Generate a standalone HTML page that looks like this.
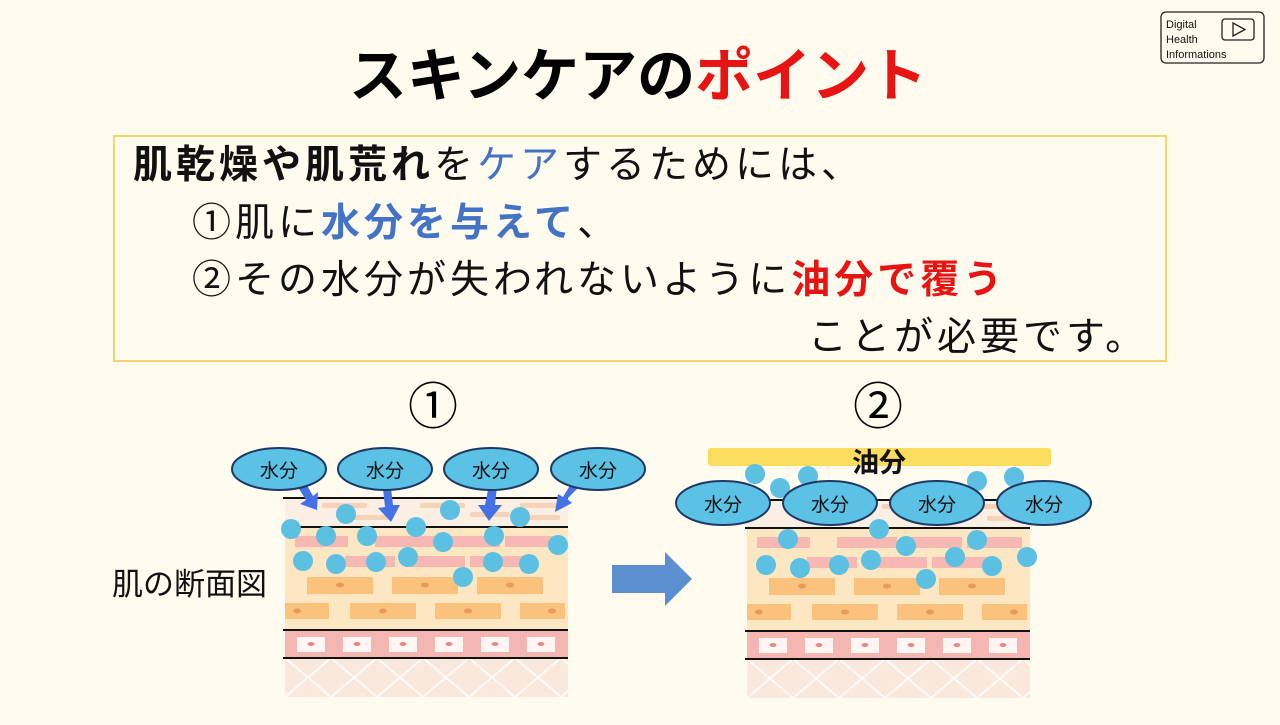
<!DOCTYPE html>
<html><head><meta charset="utf-8"><style>
body{margin:0;width:1280px;height:720px;overflow:hidden;background:#fffbee;font-family:"Liberation Sans","Noto Sans CJK JP",sans-serif;}
</style></head><body>
<svg width="1280" height="720" viewBox="0 0 1280 720" xmlns="http://www.w3.org/2000/svg" font-family="Liberation Sans, Noto Sans CJK JP, sans-serif">
<rect width="1280" height="720" fill="#fffbee"/>
<rect x="1161" y="12" width="103" height="51" rx="5" fill="none" stroke="#222" stroke-width="1.3"/>
<text x="1166" y="28" font-size="11" fill="#111">Digital</text>
<text x="1166" y="43" font-size="11" fill="#111">Health</text>
<text x="1166" y="58" font-size="11" fill="#111">Informations</text>
<rect x="1222" y="19" width="32" height="21" rx="3" fill="none" stroke="#222" stroke-width="1.3"/>
<path d="M1233 23 L1245 29.5 L1233 36 Z" fill="none" stroke="#222" stroke-width="1.3"/>
<text x="638" y="96" font-size="58" font-weight="bold" text-anchor="middle" fill="#000">スキンケアの<tspan fill="#e81414">ポイント</tspan></text>
<rect x="114" y="136" width="1052" height="225" fill="#fffbee" stroke="#f3d66c" stroke-width="2"/>
<g font-size="39" fill="#111" letter-spacing="4">
<text x="133" y="178"><tspan font-weight="bold">肌乾燥や肌荒れ</tspan>を<tspan fill="#4472c4">ケア</tspan>するためには、</text>
<text x="192" y="236">①肌に<tspan fill="#4472c4" font-weight="bold">水分を与えて</tspan>、</text>
<text x="192" y="293">②その水分が失われないように<tspan fill="#e81414" font-weight="bold">油分で覆う</tspan></text>
<text x="808" y="350">ことが必要です。</text>
</g>
<text x="433" y="424" font-size="50" text-anchor="middle" fill="#000">①</text>
<text x="878" y="424" font-size="50" text-anchor="middle" fill="#000">②</text>
<text x="112" y="595" font-size="31" fill="#111">肌の断面図</text>
<path d="M612 565 L665 565 L665 552 L692 579 L665 606 L665 593 L612 593 Z" fill="#5b8fd0"/>
<defs>
<pattern id="hx" width="46" height="39" patternUnits="userSpaceOnUse" x="285" y="658">
<path d="M0 0 L46 39 M46 0 L0 39" stroke="#fff" stroke-width="2"/>
</pattern>
<g id="skin">
<rect x="285" y="498" width="283" height="29" fill="#fbeee2"/>
<g fill="#f6d3b8"><rect x="322" y="503" width="45" height="5" rx="2"/><rect x="420" y="503" width="45" height="5" rx="2"/><rect x="470" y="512" width="40" height="5" rx="2"/><rect x="520" y="503" width="40" height="5" rx="2"/><rect x="350" y="515" width="40" height="5" rx="2"/><rect x="525" y="515" width="35" height="5" rx="2"/></g>
<rect x="285" y="527" width="283" height="103" fill="#fde6c2"/>
<g fill="#f7b8b3"><rect x="295" y="536" width="53" height="11"/><rect x="375" y="536" width="60" height="11"/><rect x="445" y="536" width="55" height="11"/><rect x="505" y="536" width="55" height="11"/><rect x="345" y="556" width="50" height="11"/><rect x="405" y="556" width="60" height="11"/><rect x="470" y="556" width="55" height="11"/></g>
<g fill="#fac27c"><rect x="307" y="577" width="66" height="17"/><rect x="392" y="577" width="66" height="17"/><rect x="477" y="577" width="66" height="17"/><rect x="285" y="603" width="44" height="16"/><rect x="350" y="603" width="66" height="16"/><rect x="435" y="603" width="66" height="16"/><rect x="520" y="603" width="45" height="16"/></g>
<g fill="#e89a5a"><ellipse cx="340" cy="585" rx="4" ry="2.5"/><ellipse cx="425" cy="585" rx="4" ry="2.5"/><ellipse cx="510" cy="585" rx="4" ry="2.5"/><ellipse cx="297" cy="611" rx="4" ry="2.5"/><ellipse cx="383" cy="611" rx="4" ry="2.5"/><ellipse cx="468" cy="611" rx="4" ry="2.5"/><ellipse cx="552" cy="611" rx="4" ry="2.5"/></g>
<rect x="285" y="630" width="283" height="28" fill="#f4b6b1"/>
<g fill="#fff5f3"><rect x="297" y="637" width="28" height="15"/><rect x="343" y="637" width="28" height="15"/><rect x="389" y="637" width="28" height="15"/><rect x="435" y="637" width="28" height="15"/><rect x="481" y="637" width="28" height="15"/><rect x="527" y="637" width="28" height="15"/></g>
<g fill="#e08a8a"><ellipse cx="311" cy="644" rx="3.5" ry="2"/><ellipse cx="357" cy="644" rx="3.5" ry="2"/><ellipse cx="403" cy="644" rx="3.5" ry="2"/><ellipse cx="449" cy="644" rx="3.5" ry="2"/><ellipse cx="495" cy="644" rx="3.5" ry="2"/><ellipse cx="541" cy="644" rx="3.5" ry="2"/></g>
<rect x="285" y="658" width="283" height="39" fill="#fbe8dc"/>
<rect x="285" y="658" width="283" height="39" fill="url(#hx)" opacity="0.8"/>
<g stroke="#111" stroke-width="2"><line x1="283" y1="527" x2="568" y2="527"/><line x1="283" y1="630" x2="568" y2="630"/><line x1="283" y1="658" x2="568" y2="658"/></g>
</g>
</defs>
<use href="#skin"/>
<line x1="283" y1="498" x2="568" y2="498" stroke="#111" stroke-width="2"/>
<g fill="#5bc0e2">
<circle cx="346" cy="514" r="10"/><circle cx="450" cy="510" r="10"/><circle cx="520" cy="517" r="10"/><circle cx="291" cy="529" r="10"/><circle cx="326" cy="536" r="10"/><circle cx="367" cy="536" r="10"/><circle cx="416" cy="527" r="10"/><circle cx="443" cy="542" r="10"/><circle cx="494" cy="536" r="10"/><circle cx="558" cy="545" r="10"/><circle cx="303" cy="561" r="10"/><circle cx="336" cy="564" r="10"/><circle cx="376" cy="562" r="10"/><circle cx="408" cy="557" r="10"/><circle cx="493" cy="562" r="10"/><circle cx="529" cy="564" r="10"/><circle cx="463" cy="577" r="10"/>
</g>
<g fill="#4472e6">
<path d="M296 484 L303 478 L313 496 L318 492 L317 510 L300 504 L306 500 Z"/>
<path d="M383 489 L391 488 L393 505 L400 505 L391 522 L378 508 L385 507 Z"/>
<path d="M489 485 L497 486 L495 505 L502 505 L489 521 L478 505 L485 505 Z"/>
<path d="M572 482 L578 488 L567 499 L572 503 L555 512 L558 494 L563 497 Z"/>
</g>
<g stroke="#1f3864" stroke-width="2" fill="#5bc2e6">
<ellipse cx="279" cy="469" rx="47" ry="21"/><ellipse cx="385" cy="469" rx="47" ry="21"/><ellipse cx="491" cy="469" rx="47" ry="21"/><ellipse cx="598" cy="469" rx="47" ry="21"/>
</g>
<g font-size="19" text-anchor="middle" fill="#111"><text x="279" y="477">水分</text><text x="385" y="477">水分</text><text x="491" y="477">水分</text><text x="598" y="477">水分</text></g>
<use href="#skin" transform="translate(462,1)"/>
<rect x="708" y="448" width="343" height="18" rx="3" fill="#fbdc5c"/>
<text x="879" y="472" font-size="27" font-weight="bold" text-anchor="middle" fill="#111">油分</text>
<g fill="#5bc0e2">
<circle cx="755" cy="474" r="10"/><circle cx="780" cy="488" r="10"/><circle cx="808" cy="476" r="10"/><circle cx="977" cy="481" r="10"/><circle cx="1014" cy="477" r="10"/>
<circle cx="879" cy="529" r="10"/><circle cx="788" cy="539" r="10"/><circle cx="906" cy="546" r="10"/><circle cx="977" cy="540" r="10"/><circle cx="766" cy="565" r="10"/><circle cx="800" cy="568" r="10"/><circle cx="839" cy="565" r="10"/><circle cx="871" cy="560" r="10"/><circle cx="955" cy="557" r="10"/><circle cx="992" cy="566" r="10"/><circle cx="1027" cy="557" r="10"/><circle cx="926" cy="579" r="10"/>
</g>
<line x1="720" y1="500" x2="1050" y2="500" stroke="#111" stroke-width="2"/>
<g stroke="#1f3864" stroke-width="2" fill="#5bc2e6">
<ellipse cx="723" cy="503" rx="47" ry="22"/><ellipse cx="830" cy="503" rx="47" ry="22"/><ellipse cx="937" cy="503" rx="47" ry="22"/><ellipse cx="1044" cy="503" rx="47" ry="22"/>
</g>
<g font-size="19" text-anchor="middle" fill="#111"><text x="723" y="511">水分</text><text x="830" y="511">水分</text><text x="937" y="511">水分</text><text x="1044" y="511">水分</text></g>
</svg>
</body></html>
